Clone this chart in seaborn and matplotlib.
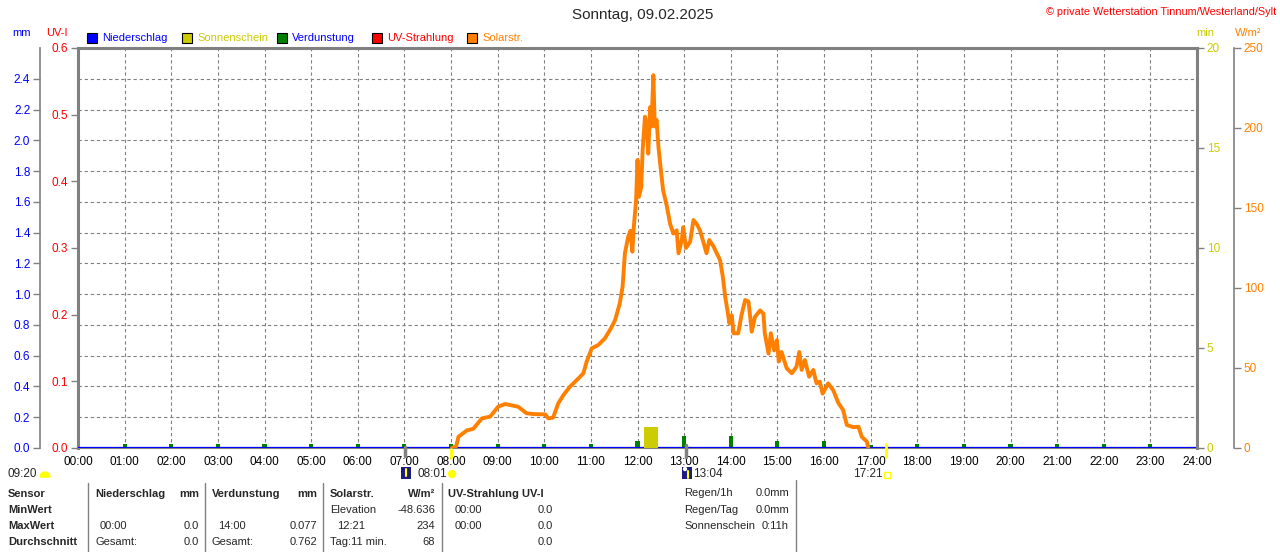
import numpy as np
import pandas as pd
import matplotlib.pyplot as plt
import seaborn as sns
from matplotlib.patches import Rectangle, Wedge, Circle

sns.set_style("white")
plt.rcParams['font.family'] = ['Liberation Sans', 'DejaVu Sans']

# x axis
hours = list(range(25))
hour_labels = [f"{h:02d}:00" for h in hours]

# Solarstrahlung W/m2
solar_time = [8.02, 8.11, 8.16, 8.34, 8.48, 8.66, 8.84, 9.01, 9.16, 9.44, 9.62, 9.77,
              10.02, 10.09, 10.19, 10.30, 10.41, 10.55, 10.70, 10.84, 10.91, 11.02,
              11.16, 11.30, 11.45, 11.52, 11.62, 11.68, 11.73, 11.80, 11.85, 11.89,
              11.92, 11.97, 12.00, 12.03, 12.08, 12.11, 12.16, 12.20, 12.23, 12.27,
              12.30, 12.34, 12.37, 12.41, 12.45, 12.50, 12.55, 12.63, 12.70, 12.77,
              12.84, 12.88, 12.95, 12.98, 13.04, 13.13, 13.20, 13.27, 13.34, 13.41,
              13.48, 13.54, 13.63, 13.70, 13.77, 13.83, 13.88, 13.93, 13.97, 14.02,
              14.06, 14.16, 14.23, 14.31, 14.38, 14.41, 14.45, 14.52, 14.63, 14.70,
              14.73, 14.81, 14.86, 14.93, 14.99, 15.03, 15.09, 15.20, 15.31, 15.41,
              15.47, 15.52, 15.59, 15.68, 15.77, 15.84, 15.91, 15.97, 16.09, 16.20,
              16.31, 16.41, 16.49, 16.63, 16.74, 16.81, 16.92, 16.95]
solar_wm2 = [0, 1, 7, 11, 12, 18.5, 19.6, 25.8, 27.5, 25.8, 21.7, 21.2,
             21, 18.5, 19, 27.9, 33, 38.3, 42.5, 46.7, 54, 62.3,
             64.4, 68.5, 75.8, 80, 90.4, 100.8, 121.7, 132, 135.8, 122.7,
             138, 155, 180, 157, 163, 186, 207, 200.8, 184, 213,
             201, 233, 201, 205, 188, 174, 161, 151, 140, 134,
             136, 121.7, 130, 138, 125, 129, 142.5, 140, 136, 129,
             121.7, 130, 126, 121.7, 117.5, 107, 94.6, 86, 78, 83,
             71.7, 71.7, 83, 92.5, 91.5, 84, 72.7, 82, 86, 84,
             71.7, 59, 71.7, 61, 67.5, 54, 60, 49.8, 46.7, 50.8,
             60, 48.8, 55, 44.6, 48.8, 40.4, 41.5, 34, 40.4, 36,
             28, 23.75, 14.4, 13, 13.3, 7, 4, 0]

# Verdunstung mm per hour
evap_hour = list(range(1, 24))
evap_mm = [0.025, 0.025, 0.025, 0.025, 0.025, 0.025, 0.025, 0.025, 0.025, 0.025,
           0.025, 0.046, 0.076, 0.077, 0.048, 0.048, 0.02, 0.025, 0.025, 0.025,
           0.025, 0.025, 0.025]

# Sonnenschein min
sun_time = [12.18, 12.28, 12.38]
sun_min = [1.07, 1.05, 1.07]

# Niederschlag / UV
rain_time = [0, 24]
rain_mm = [0.0, 0.0]

uv_ticks = [0.0, 0.1, 0.2, 0.3, 0.4, 0.5, 0.6]
mm_ticks = [0.0, 0.2, 0.4, 0.6, 0.8, 1.0, 1.2, 1.4, 1.6, 1.8, 2.0, 2.2, 2.4]
min_ticks = [0, 5, 10, 15, 20]
sol_ticks = [0, 50, 100, 150, 200, 250]

BLUE = '#0000ff'
RED = '#ff0000'
YEL = '#cccc00'
GREEN = '#008000'
ORANGE = '#ff8000'
GRAY = '#808080'

W, H = 1280, 552
fig = plt.figure(figsize=(12.8, 5.52), dpi=100)
x0, x1, yb, yt = 78, 1197, 448, 48
ax = fig.add_axes([x0 / W, 1 - yb / H, (x1 - x0) / W, (yb - yt) / H])
ax.set_xlim(0, 24)
ax.set_ylim(0, 0.6)

ax_mm = ax.twinx()
ax_min = ax.twinx()
ax_sol = ax.twinx()

for a in (ax, ax_mm, ax_min, ax_sol):
    for s in a.spines.values():
        s.set_visible(False)
    a.tick_params(axis='y', colors=GRAY, length=5, width=1, labelsize=8.5, pad=2)

# main frame
ax.spines['left'].set_visible(True)
ax.spines['top'].set_visible(True)
ax.spines['bottom'].set_visible(True)
for k in ('left', 'top'):
    ax.spines[k].set_color(GRAY)
    ax.spines[k].set_linewidth(2.2)
ax.spines['bottom'].set_color(GRAY)
ax.spines['bottom'].set_linewidth(1.5)

# UV axis
ax.set_yticks(uv_ticks)
ax.set_yticklabels([f"{v:.1f}" for v in uv_ticks])
for t in ax.get_yticklabels():
    t.set_color(RED)
ax.set_xticks(hours)
ax.set_xticklabels(hour_labels)
ax.tick_params(axis='x', length=0, labelsize=8.5, pad=6, colors='black')
ax.grid(axis='x', color=GRAY, linestyle=(0, (3, 2.5)), linewidth=0.8)
ax.grid(axis='y', visible=False)

# mm axis
ax_mm.set_ylim(0, 2.6)
ax_mm.yaxis.tick_left()
ax_mm.spines['left'].set_visible(True)
ax_mm.spines['left'].set_position(('axes', (40 - x0) / (x1 - x0)))
ax_mm.spines['left'].set_color(GRAY)
ax_mm.spines['left'].set_linewidth(1.2)
ax_mm.set_yticks(mm_ticks)
ax_mm.set_yticklabels([f"{v:.1f}" for v in mm_ticks])
for t in ax_mm.get_yticklabels():
    t.set_color(BLUE)
ax_mm.grid(axis='y', color=GRAY, linestyle=(0, (3, 2.5)), linewidth=0.8)
ax_mm.bar(evap_hour, evap_mm, width=0.09, color=GREEN, linewidth=0, zorder=3)
sns.lineplot(x=rain_time, y=rain_mm, ax=ax_mm, color=BLUE, linewidth=1.6, zorder=4)

# min axis
ax_min.set_ylim(0, 20)
ax_min.spines['right'].set_visible(True)
ax_min.spines['right'].set_color(GRAY)
ax_min.spines['right'].set_linewidth(2.2)
ax_min.set_yticks(min_ticks)
ax_min.set_yticklabels([str(v) for v in min_ticks])
for t in ax_min.get_yticklabels():
    t.set_color(YEL)
ax_min.bar(sun_time, sun_min, width=0.102, color=YEL, linewidth=0, zorder=3)

# solar axis
ax_sol.set_ylim(0, 250)
ax_sol.spines['right'].set_visible(True)
ax_sol.spines['right'].set_position(('axes', (1234 - x0) / (x1 - x0)))
ax_sol.spines['right'].set_color(GRAY)
ax_sol.spines['right'].set_linewidth(1.2)
ax_sol.set_yticks(sol_ticks)
ax_sol.set_yticklabels([str(v) for v in sol_ticks])
for t in ax_sol.get_yticklabels():
    t.set_color(ORANGE)
sol_df = pd.DataFrame({'t': solar_time, 'w': solar_wm2})
sns.lineplot(data=sol_df, x='t', y='w', ax=ax_sol, color=ORANGE, linewidth=2.8,
             sort=False, estimator=None)
for a in (ax, ax_mm, ax_min, ax_sol):
    a.set_xlabel('')
    a.set_ylabel('')
ax_sol.set_xlim(0, 24)

# overlay in pixel coordinates
ov = fig.add_axes([0, 0, 1, 1])
ov.set_xlim(0, W)
ov.set_ylim(H, 0)
ov.axis('off')

ov.text(643, 15, "Sonntag, 09.02.2025", ha='center', va='center', fontsize=11)
ov.text(1276, 12, "© private Wetterstation Tinnum/Westerland/Sylt", ha='right',
        va='center', fontsize=7.8, color=RED)
ov.text(22, 33, "mm", ha='center', va='center', fontsize=8, color=BLUE)
ov.text(57, 33, "UV-I", ha='center', va='center', fontsize=8, color=RED)
ov.text(1205, 33, "min", ha='center', va='center', fontsize=8, color=YEL)
ov.text(1248, 33, "W/m²", ha='center', va='center', fontsize=8, color=ORANGE)

leg_x = [87, 182, 277, 372, 467]
leg_names = ["Niederschlag", "Sonnenschein", "Verdunstung", "UV-Strahlung", "Solarstr."]
leg_fill = [BLUE, YEL, GREEN, RED, ORANGE]
leg_txt = [BLUE, YEL, BLUE, RED, ORANGE]
for lx, nm, fc, tc in zip(leg_x, leg_names, leg_fill, leg_txt):
    ov.add_patch(Rectangle((lx, 33), 10, 10, facecolor=fc, edgecolor='black', lw=0.8))
    ov.text(lx + 15, 38, nm, ha='left', va='center', fontsize=8, color=tc)

# axis markers (sun / moon)
ov.plot([405, 405], [447, 456], color=GRAY, lw=2.5)
ov.plot([686, 686], [445, 457], color=GRAY, lw=2.5)
ov.plot([451, 451], [449, 458], color='#ffff00', lw=2)
ov.plot([886, 886], [444, 457], color='#ffff00', lw=2)

ov.text(8, 474, "09:20", ha='left', va='center', fontsize=8.5)
ov.add_patch(Wedge((45, 477), 5, 180, 360, color='#ffff00'))
ov.add_patch(Rectangle((401, 467), 10, 12, facecolor='#1a1a80', edgecolor='none'))
ov.plot([406, 406], [469, 476], color='#ffff00', lw=1.5)
ov.text(417, 474, "08:01", ha='left', va='center', fontsize=8.5)
ov.add_patch(Circle((452, 474), 3.5, color='#ffff00'))
ov.add_patch(Rectangle((682, 467), 10, 12, facecolor='#1a1a80', edgecolor='none'))
ov.plot([688, 688], [471, 478], color='#ffff00', lw=1.5)
ov.add_patch(Circle((685, 469), 1.5, color='white'))
ov.text(693, 474, "13:04", ha='left', va='center', fontsize=8.5)
ov.text(853, 474, "17:21", ha='left', va='center', fontsize=8.5)
ov.add_patch(Rectangle((884, 472), 6, 6, facecolor='none', edgecolor='#ffff00', lw=1))

# table
for sx in [88, 205, 323, 442]:
    ov.plot([sx, sx], [483, 552], color=GRAY, lw=1)
ov.plot([796, 796], [480, 552], color=GRAY, lw=1)

rows = [494, 510, 526, 542]
for y, lab in zip(rows, ["Sensor", "MinWert", "MaxWert", "Durchschnitt"]):
    ov.text(8, y, lab, ha='left', va='center', fontsize=8, fontweight='bold')

bold = dict(ha='left', va='center', fontsize=8, fontweight='bold')
ov.text(95, rows[0], "Niederschlag", **bold)
ov.text(199, rows[0], "mm", ha='right', va='center', fontsize=8, fontweight='bold')
ov.text(212, rows[0], "Verdunstung", **bold)
ov.text(317, rows[0], "mm", ha='right', va='center', fontsize=8, fontweight='bold')
ov.text(330, rows[0], "Solarstr.", **bold)
ov.text(435, rows[0], "W/m²", ha='right', va='center', fontsize=8, fontweight='bold')
ov.text(448, rows[0], "UV-Strahlung UV-I", **bold)

norm = dict(va='center', fontsize=8)
ov.text(330, rows[1], "Elevation", ha='left', **norm)
ov.text(435, rows[1], "-48.636", ha='right', **norm)
ov.text(455, rows[1], "00:00", ha='left', **norm)
ov.text(553, rows[1], "0.0", ha='right', **norm)

ov.text(100, rows[2], "00:00", ha='left', **norm)
ov.text(199, rows[2], "0.0", ha='right', **norm)
ov.text(218, rows[2], "14:00", ha='left', **norm)
ov.text(317, rows[2], "0.077", ha='right', **norm)
ov.text(337, rows[2], "12:21", ha='left', **norm)
ov.text(435, rows[2], "234", ha='right', **norm)
ov.text(455, rows[2], "00:00", ha='left', **norm)
ov.text(553, rows[2], "0.0", ha='right', **norm)

ov.text(95, rows[3], "Gesamt:", ha='left', **norm)
ov.text(199, rows[3], "0.0", ha='right', **norm)
ov.text(212, rows[3], "Gesamt:", ha='left', **norm)
ov.text(317, rows[3], "0.762", ha='right', **norm)
ov.text(330, rows[3], "Tag:11 min.", ha='left', **norm)
ov.text(435, rows[3], "68", ha='right', **norm)
ov.text(553, rows[3], "0.0", ha='right', **norm)

ov.text(684, 493, "Regen/1h", ha='left', **norm)
ov.text(789, 493, "0.0mm", ha='right', **norm)
ov.text(684, 510, "Regen/Tag", ha='left', **norm)
ov.text(789, 510, "0.0mm", ha='right', **norm)
ov.text(684, 526, "Sonnenschein", ha='left', **norm)
ov.text(789, 526, "0:11h", ha='right', **norm)

fig.savefig("out.png", dpi=100)
